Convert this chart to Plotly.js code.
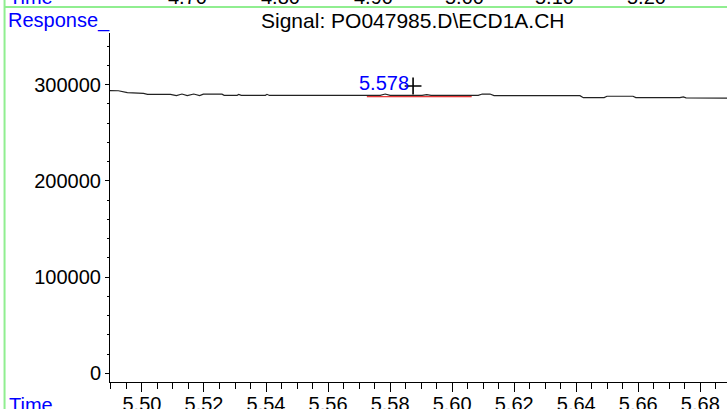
<!DOCTYPE html>
<html>
<head>
<meta charset="utf-8">
<script src="https://cdn.plot.ly/plotly-3.0.1.min.js"></script>
<style>
html,body{margin:0;padding:0;background:#fff;overflow:hidden;}
#chart{width:727px;height:409px;}
</style>
</head>
<body>
<div id="chart"></div>
<script>
// Chromatogram signal (time in min, response)
const times = [5.4897,5.4924,5.4953,5.5005,5.5018,5.5092,5.5111,5.5129,5.5146,5.5167,5.5186,5.5198,5.5258,5.5265,5.5307,5.5312,5.5320,5.5398,5.5403,5.5411,5.5510,5.5725,5.5768,5.5784,5.5800,5.5903,5.5918,5.5932,5.5990,5.6004,5.6019,5.6084,5.6097,5.6122,5.6135,5.6412,5.6423,5.6444,5.6490,5.6499,5.6583,5.6592,5.6734,5.6745,5.6754,5.6886];
const response = [293800,293700,291700,291000,290000,290000,288700,290300,288600,290300,288600,290200,290200,289000,289000,290000,289000,289000,290000,288800,288800,289100,289000,290300,289000,289000,289600,289000,289000,289600,289000,289000,290300,290300,288700,288600,286500,286500,286600,288000,288000,286600,286600,287400,286400,286000];
// integration baseline (red)
const baseTimes = [5.5725, 5.6063];
const baseResp = [287500, 287500];
// peak
const peakRT = [5.578];
const peakLabel = ['5.578'];
const peakLabelResp = [301800];
const apexTime = [5.5874];
const apexResp = [298650];
// axis ticks
const xTickVals = [5.50,5.52,5.54,5.56,5.58,5.60,5.62,5.64,5.66,5.68];
const yTickVals = [0,100000,200000,300000];
// clipped labels of the panel above
const topTickLabels = ['4.70','4.80','4.90','5.00','5.10','5.20'];
const topTickPos = [0.1263,0.2761,0.4267,0.5741,0.7198,0.8688];

const F = '"Liberation Sans", Arial, sans-serif';
const green = 'rgb(144,238,144)';

const traces = [
  {x: baseTimes, y: baseResp, type: 'scatter', mode: 'lines',
   line: {color: '#e00000', width: 1}, hoverinfo: 'skip'},
  {x: times, y: response, type: 'scatter', mode: 'lines',
   line: {color: '#222', width: 1.2}, hoverinfo: 'skip', cliponaxis: true},
  {x: apexTime, y: apexResp, type: 'scatter', mode: 'markers',
   marker: {symbol: 'cross-thin-open', size: 12, color: '#000', line: {color: '#000', width: 1.6}}, hoverinfo: 'skip'}
];

const annotations = [
  {xref: 'paper', yref: 'paper', x: 0.4915, y: 1.0372, text: 'Signal: PO047985.D\\ECD1A.CH',
   showarrow: false, xanchor: 'center', yanchor: 'middle', font: {family: F, size: 21, color: '#000'}},
  {xref: 'paper', yref: 'paper', x: -0.1693, y: 1.0372, text: 'Response_',
   showarrow: false, xanchor: 'left', yanchor: 'middle', font: {family: F, size: 20, color: '#0000ff'}},
  {xref: 'paper', yref: 'paper', x: -0.167, y: -0.0659, text: 'Time',
   showarrow: false, xanchor: 'left', yanchor: 'middle', font: {family: F, size: 20, color: '#0000ff'}},
  {xref: 'paper', yref: 'paper', x: -0.167, y: 1.1032, text: 'Time',
   showarrow: false, xanchor: 'left', yanchor: 'middle', font: {family: F, size: 20, color: '#0000ff'}}
];
topTickLabels.forEach((t, i) => annotations.push({
  xref: 'paper', yref: 'paper', x: topTickPos[i], y: 1.1032, text: t,
  showarrow: false, xanchor: 'center', yanchor: 'middle', font: {family: F, size: 20, color: '#000'}
}));
peakRT.forEach((rt, i) => annotations.push({
  xref: 'x', yref: 'y', x: rt, y: peakLabelResp[i], text: peakLabel[i],
  showarrow: false, xanchor: 'center', yanchor: 'middle', font: {family: F, size: 20, color: '#0000ff'}
}));

const layout = {
  width: 727, height: 409,
  margin: {l: 109.5, r: 0, t: 33, b: 27, pad: 0},
  paper_bgcolor: '#fff', plot_bgcolor: '#fff',
  showlegend: false,
  font: {family: F, size: 20, color: '#000'},
  xaxis: {
    range: [5.4897, 5.6886], tickmode: 'array', tickvals: xTickVals, tickformat: '.2f',
    ticks: 'outside', ticklen: 9, tickwidth: 1, tickcolor: '#000', ticklabelstandoff: -5,
    minor: {dtick: 0.005, tick0: 5.5, ticks: 'outside', ticklen: 6, tickwidth: 1, tickcolor: '#000', showgrid: false},
    showline: true, linecolor: '#000', linewidth: 1, showgrid: false, zeroline: false,
    tickfont: {family: F, size: 20, color: '#000'}, fixedrange: true
  },
  yaxis: {
    range: [-9044, 353740], tickmode: 'array', tickvals: yTickVals, tickformat: 'd',
    ticks: 'outside', ticklen: 4, tickwidth: 1, tickcolor: '#000',
    minor: {dtick: 20000, tick0: 0, ticks: 'outside', ticklen: 2.5, tickwidth: 1, tickcolor: '#000', showgrid: false},
    showline: true, linecolor: '#000', linewidth: 1, showgrid: false, zeroline: false,
    tickfont: {family: F, size: 20, color: '#000'}, fixedrange: true
  },
  shapes: [
    {type: 'line', xref: 'paper', yref: 'paper', x0: -0.1709, x1: 1.1, y0: 1.0745, y1: 1.0745,
     line: {color: green, width: 2}},
    {type: 'line', xref: 'paper', yref: 'paper', x0: -0.1709, x1: -0.1709, y0: -0.2, y1: 1.2,
     line: {color: green, width: 2}}
  ],
  annotations: annotations
};

Plotly.newPlot('chart', traces, layout, {displayModeBar: false, staticPlot: true});
</script>
</body>
</html>
